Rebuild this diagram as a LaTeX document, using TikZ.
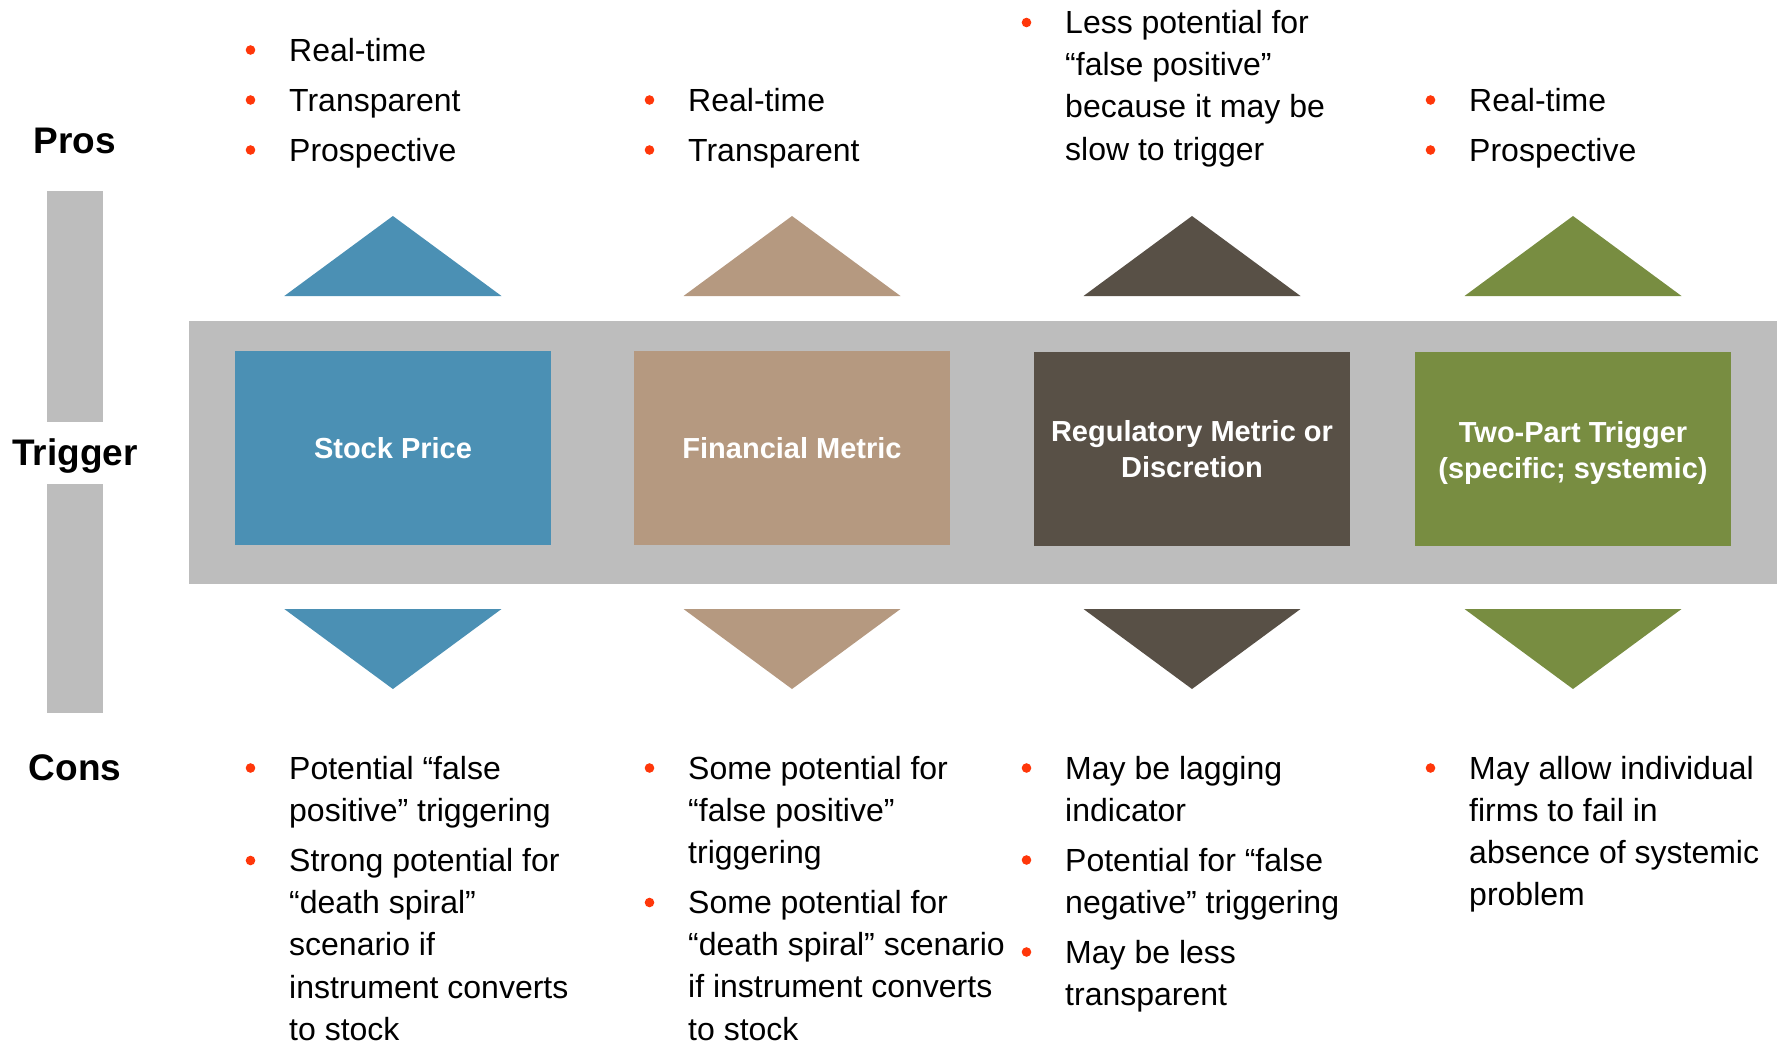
\documentclass[tikz,border=0pt]{standalone}
\usepackage{fontspec}
\setmainfont{Liberation Sans}
\definecolor{stockblue}{RGB}{75,144,180}
\definecolor{metrictan}{RGB}{181,153,128}
\definecolor{regdark}{RGB}{88,80,70}
\definecolor{twogreen}{RGB}{120,141,65}
\definecolor{bandgray}{RGB}{189,189,189}
\definecolor{bulletred}{RGB}{255,55,10}
\newcommand{\itemlines}[1]{\begin{tabular}[t]{@{}l@{}}#1\end{tabular}}

\begin{document}
\begin{tikzpicture}[x=1pt,y=-1pt]

\tikzset{
  head/.style={font=\fontsize{37}{44}\selectfont\bfseries, anchor=base, inner sep=0pt},
  trigbox/.style={minimum width=316pt, minimum height=194pt, inner sep=0pt, align=center,
    text=white, font=\fontsize{29}{36}\selectfont\bfseries},
  itemtext/.style={font=\fontsize{32}{42.2}\selectfont, anchor=base west, inner sep=0pt},
  bulletdot/.style={fill=bulletred},
}

\useasboundingbox (0,0) rectangle (1777,1047);

\fill[bandgray] (47,191) rectangle (103,421.7);
\fill[bandgray] (47,484) rectangle (103,713.3);
\fill[bandgray] (188.5,321) rectangle (1777,583.5);

\node[head] (pros) at (75,153.3) {Pros};
\node[head] (trigger) at (75,465.7) {Trigger};
\node[head] (cons) at (75,780) {Cons};

\node[trigbox, fill=stockblue] (sp) at (393,448) {Stock Price};
\node[trigbox, fill=metrictan] (fm) at (792,448) {Financial Metric};
\node[trigbox, fill=regdark] (rm) at (1192,449) {Regulatory Metric or\\Discretion};
\node[trigbox, fill=twogreen, text depth=0pt] (tp) at (1573,449) {};
\node[trigbox, minimum width=0pt, minimum height=0pt] (tplabel) at ([yshift=-3.5pt]tp.center) {Two-Part Trigger\\(specific; systemic)};

\fill[stockblue] (284.3,296) -- (392.9,216) -- (501.5,296) -- cycle;
\fill[metrictan] (683.5,296) -- (792,216) -- (900.5,296) -- cycle;
\fill[regdark] (1083.5,296) -- (1192,216) -- (1300.5,296) -- cycle;
\fill[twogreen] (1464.5,296) -- (1573,216) -- (1681.5,296) -- cycle;

\fill[stockblue] (284.3,609) -- (392.9,689) -- (501.5,609) -- cycle;
\fill[metrictan] (683.5,609) -- (792,689) -- (900.5,609) -- cycle;
\fill[regdark] (1083.5,609) -- (1192,689) -- (1300.5,609) -- cycle;
\fill[twogreen] (1464.5,609) -- (1573,689) -- (1681.5,609) -- cycle;

\node[itemtext] (p1a) at (289,61) {Real-time};
\node[itemtext] (p1b) at (289,111) {Transparent};
\node[itemtext] (p1c) at (289,161) {Prospective};
\node[itemtext] (p2a) at (688,111) {Real-time};
\node[itemtext] (p2b) at (688,161) {Transparent};
\node[itemtext] (p3a) at (1065,33.5) {\itemlines{Less potential for\\“false positive”\\because it may be\\slow to trigger}};
\node[itemtext] (p4a) at (1469,111) {Real-time};
\node[itemtext] (p4b) at (1469,161) {Prospective};

\node[itemtext] (c1a) at (289,779) {\itemlines{Potential “false\\positive” triggering}};
\node[itemtext] (c1b) at (289,871.5) {\itemlines{Strong potential for\\“death spiral”\\scenario if\\instrument converts\\to stock}};
\node[itemtext] (c2a) at (688,779) {\itemlines{Some potential for\\“false positive”\\triggering}};
\node[itemtext] (c2b) at (688,913.5) {\itemlines{Some potential for\\“death spiral” scenario\\if instrument converts\\to stock}};
\node[itemtext] (c3a) at (1065,779) {\itemlines{May be lagging\\indicator}};
\node[itemtext] (c3b) at (1065,871) {\itemlines{Potential for “false\\negative” triggering}};
\node[itemtext] (c3c) at (1065,963) {\itemlines{May be less\\transparent}};
\node[itemtext] (c4a) at (1469,779) {\itemlines{May allow individual\\firms to fail in\\absence of systemic\\problem}};

\fill[bulletdot] ([xshift=-38.5pt,yshift=11pt]p1a.base west) circle (4.8pt);
\fill[bulletdot] ([xshift=-38.5pt,yshift=11pt]p1b.base west) circle (4.8pt);
\fill[bulletdot] ([xshift=-38.5pt,yshift=11pt]p1c.base west) circle (4.8pt);
\fill[bulletdot] ([xshift=-38.5pt,yshift=11pt]p2a.base west) circle (4.8pt);
\fill[bulletdot] ([xshift=-38.5pt,yshift=11pt]p2b.base west) circle (4.8pt);
\fill[bulletdot] ([xshift=-38.5pt,yshift=11pt]p3a.base west) circle (4.8pt);
\fill[bulletdot] ([xshift=-38.5pt,yshift=11pt]p4a.base west) circle (4.8pt);
\fill[bulletdot] ([xshift=-38.5pt,yshift=11pt]p4b.base west) circle (4.8pt);
\fill[bulletdot] ([xshift=-38.5pt,yshift=11pt]c1a.base west) circle (4.8pt);
\fill[bulletdot] ([xshift=-38.5pt,yshift=11pt]c1b.base west) circle (4.8pt);
\fill[bulletdot] ([xshift=-38.5pt,yshift=11pt]c2a.base west) circle (4.8pt);
\fill[bulletdot] ([xshift=-38.5pt,yshift=11pt]c2b.base west) circle (4.8pt);
\fill[bulletdot] ([xshift=-38.5pt,yshift=11pt]c3a.base west) circle (4.8pt);
\fill[bulletdot] ([xshift=-38.5pt,yshift=11pt]c3b.base west) circle (4.8pt);
\fill[bulletdot] ([xshift=-38.5pt,yshift=11pt]c3c.base west) circle (4.8pt);
\fill[bulletdot] ([xshift=-38.5pt,yshift=11pt]c4a.base west) circle (4.8pt);

\end{tikzpicture}
\end{document}
